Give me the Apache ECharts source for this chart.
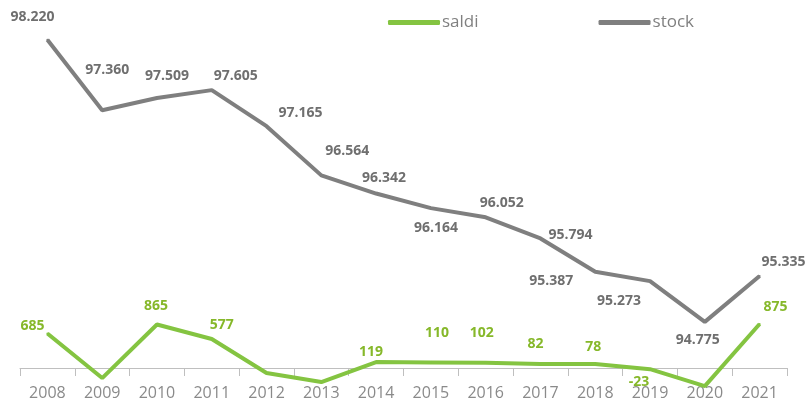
<!DOCTYPE html>
<html>
<head>
<meta charset="utf-8">
<script src="https://cdn.jsdelivr.net/npm/echarts@6/dist/echarts.min.js"></script>
<style>
  html, body { margin: 0; padding: 0; background: #fff; }
  #chart { width: 809px; height: 408px; }
</style>
</head>
<body>
<div id="chart"></div>
<script>
const years = ['2008', '2009', '2010', '2011', '2012', '2013', '2014', '2015', '2016', '2017', '2018', '2019', '2020', '2021']
const saldi = [685, -200, 865, 577, -100, -280, 119, 110, 102, 82, 78, -23, -360, 875]
const stock = [98220, 97360, 97509, 97605, 97165, 96564, 96342, 96164, 96052, 95794, 95387, 95273, 94775, 95335]

// label placement (offset from the point)
const saldiLabelOffset = [[-15, -8], null, [-1, -18], [10, -14], null, null, [-5, -10], [6, -29], [-4, -30], [-5, -20], [-2, -17], [-11, 13], null, [16, -17]]
const stockLabelOffset = [[-15, -23], [5, -40], [10, -22], [24, -14], [34, -13], [26, -24], [8, -16], [5, 20], [16, -14], [30, -3], [-44, 9], [-31, 20], [-7, 18], [24, -14]]

const fmt = v => String(v).replace(/\B(?=(\d{3})+(?!\d))/g, '.')

function withLabels(values, offsets) {
  return values.map((v, i) => ({
    value: v,
    label: offsets[i]
      ? { show: true, position: 'inside', offset: offsets[i] }
      : { show: false }
  }))
}

const chart = echarts.init(document.getElementById('chart'))

chart.setOption({
  backgroundColor: '#fff',
  animation: false,
  textStyle: { fontFamily: 'Open Sans' },
  legend: {
    data: ['saldi', 'stock'],
    left: 383,
    top: 9,
    itemWidth: 52,
    itemHeight: 5,
    itemGap: 120,
    icon: 'roundRect',
    textStyle: { color: '#808080', fontSize: 17, padding: [0, 0, 0, -3] }
  },
  // grid bottom sits on saldi = 0; negative saldi are drawn below it (clip off)
  grid: { left: 20, right: 22, top: 16, bottom: 40, outerBoundsMode: 'none', containLabel: false },
  xAxis: {
    type: 'category',
    data: years,
    boundaryGap: true,
    axisLine: { onZero: false, lineStyle: { color: '#bfbfbf', width: 1 } },
    axisTick: { show: true, length: 8, lineStyle: { color: '#bfbfbf' } },
    axisLabel: { color: '#8a8a8a', fontSize: 16, margin: 17 }
  },
  yAxis: [
    { type: 'value', min: 0, max: 7000, show: false },
    { type: 'value', min: 94212, max: 98510, show: false }
  ],
  series: [
    {
      name: 'stock',
      type: 'line',
      yAxisIndex: 1,
      clip: false,
      data: withLabels(stock, stockLabelOffset),
      symbol: 'circle',
      symbolSize: 2,
      lineStyle: { color: '#7f7f7f', width: 4 },
      itemStyle: { color: '#7f7f7f' },
      label: {
        color: '#6f6f6f',
        fontSize: 14,
        fontWeight: 'bold',
        formatter: p => fmt(p.value)
      }
    },
    {
      name: 'saldi',
      type: 'line',
      yAxisIndex: 0,
      clip: false,
      data: withLabels(saldi, saldiLabelOffset),
      symbol: 'circle',
      symbolSize: 2,
      lineStyle: { color: '#84c441', width: 4 },
      itemStyle: { color: '#84c441' },
      label: {
        color: '#86b82a',
        fontSize: 14,
        fontWeight: 'bold',
        formatter: p => fmt(p.value)
      }
    }
  ]
})
</script>
</body>
</html>
